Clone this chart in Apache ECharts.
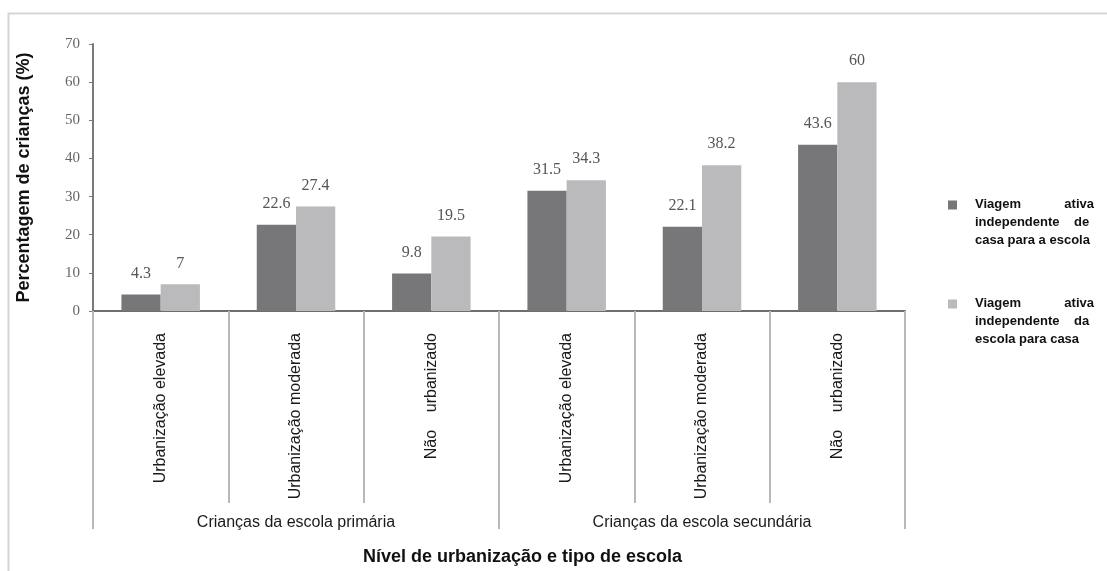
<!DOCTYPE html>
<html>
<head>
<meta charset="utf-8">
<script src="https://cdn.jsdelivr.net/npm/echarts@6/dist/echarts.min.js"></script>
<style>
  html, body { margin: 0; padding: 0; background: #fff; }
  #chart { width: 1107px; height: 571px; }
</style>
</head>
<body>
<div id="chart"></div>
<script>
// categories and groups
const categories = [
  'Urbanização elevada', 'Urbanização moderada', 'Não    urbanizado',
  'Urbanização elevada', 'Urbanização moderada', 'Não    urbanizado'
]
const groups = ['Crianças da escola primária', 'Crianças da escola secundária']

// series values (%)
const casaParaEscola = [4.3, 22.6, 9.8, 31.5, 22.1, 43.6]
const escolaParaCasa = [7, 27.4, 19.5, 34.3, 38.2, 60]

const seriesNames = [
  'Viagem ativa independente de casa para a escola',
  'Viagem ativa independente da escola para casa'
]
const legendLines = {
  'Viagem ativa independente de casa para a escola': 'Viagem            ativa\nindependente    de\ncasa para a escola',
  'Viagem ativa independente da escola para casa': 'Viagem            ativa\nindependente    da\nescola para casa'
}

const yTicks = { min: 0, max: 70, interval: 10 }

const serif = "'Liberation Serif', 'Times New Roman', serif"
const sans = "'Liberation Sans', Arial, sans-serif"

const chart = echarts.init(document.getElementById('chart'))

const labelStyle = {
  show: true,
  position: 'top',
  distance: 13,
  fontFamily: serif,
  fontSize: 16,
  color: '#555'
}

chart.setOption({
  animation: false,
  title: {
    text: 'Nível de urbanização e tipo de escola',
    left: 358,
    top: 543,
    textStyle: { fontFamily: sans, fontSize: 18, fontWeight: 'bold', color: '#111' }
  },
  graphic: [{
    type: 'rect',
    shape: { x: 8.5, y: 13.5, width: 1200, height: 700 },
    style: { fill: 'none', stroke: '#d6d6d6', lineWidth: 2 },
    silent: true,
    z: -1
  }],
  legend: {
    orient: 'vertical',
    left: 943,
    top: 190,
    itemWidth: 9,
    itemHeight: 43,
    itemGap: 45,
    icon: 'path://M0,0L10,0L10,10L0,10Z M0,47.7L0.01,47.7L0.01,47.8Z',
    formatter: name => legendLines[name],
    textStyle: {
      fontFamily: sans,
      fontSize: 13,
      fontWeight: 'bold',
      color: '#111',
      lineHeight: 18,
      padding: [0, 0, 0, 13]
    },
    data: seriesNames
  },
  grid: {
    left: 93,
    right: 202,
    top: 44,
    bottom: 260
  },
  xAxis: [{
    type: 'category',
    data: categories,
    axisLine: { lineStyle: { color: '#6e6e6e', width: 2 } },
    axisTick: { show: true, length: 192, interval: 0, lineStyle: { color: '#b8b8b8', width: 2 } },
    axisLabel: {
      interval: 0,
      rotate: 90,
      margin: 22,
      fontFamily: sans,
      fontSize: 16,
      color: '#1a1a1a'
    }
  }, {
    type: 'category',
    data: groups,
    position: 'bottom',
    axisLine: { show: false },
    axisTick: { show: true, length: 218, interval: 0, lineStyle: { color: '#b8b8b8', width: 2 } },
    axisLabel: {
      interval: 0,
      margin: 204,
      fontFamily: sans,
      fontSize: 16,
      color: '#1a1a1a'
    }
  }],
  yAxis: {
    type: 'value',
    min: yTicks.min,
    max: yTicks.max,
    interval: yTicks.interval,
    name: 'Percentagem de crianças (%)',
    nameLocation: 'middle',
    nameGap: 60,
    nameTextStyle: { fontFamily: sans, fontSize: 18, fontWeight: 'bold', color: '#111' },
    axisLine: { show: true, lineStyle: { color: '#7a7a7a', width: 2 } },
    axisTick: { show: true, length: 4, lineStyle: { color: '#7a7a7a' } },
    axisLabel: { fontFamily: serif, fontSize: 15, color: '#666', margin: 13 },
    splitLine: { show: false }
  },
  series: [{
    name: seriesNames[0],
    type: 'bar',
    data: casaParaEscola,
    barCategoryGap: '42%',
    barGap: '0%',
    itemStyle: { color: '#77777a' },
    label: labelStyle
  }, {
    name: seriesNames[1],
    type: 'bar',
    data: escolaParaCasa,
    barCategoryGap: '42%',
    barGap: '0%',
    itemStyle: { color: '#bababc' },
    label: labelStyle
  }]
})
</script>
</body>
</html>
